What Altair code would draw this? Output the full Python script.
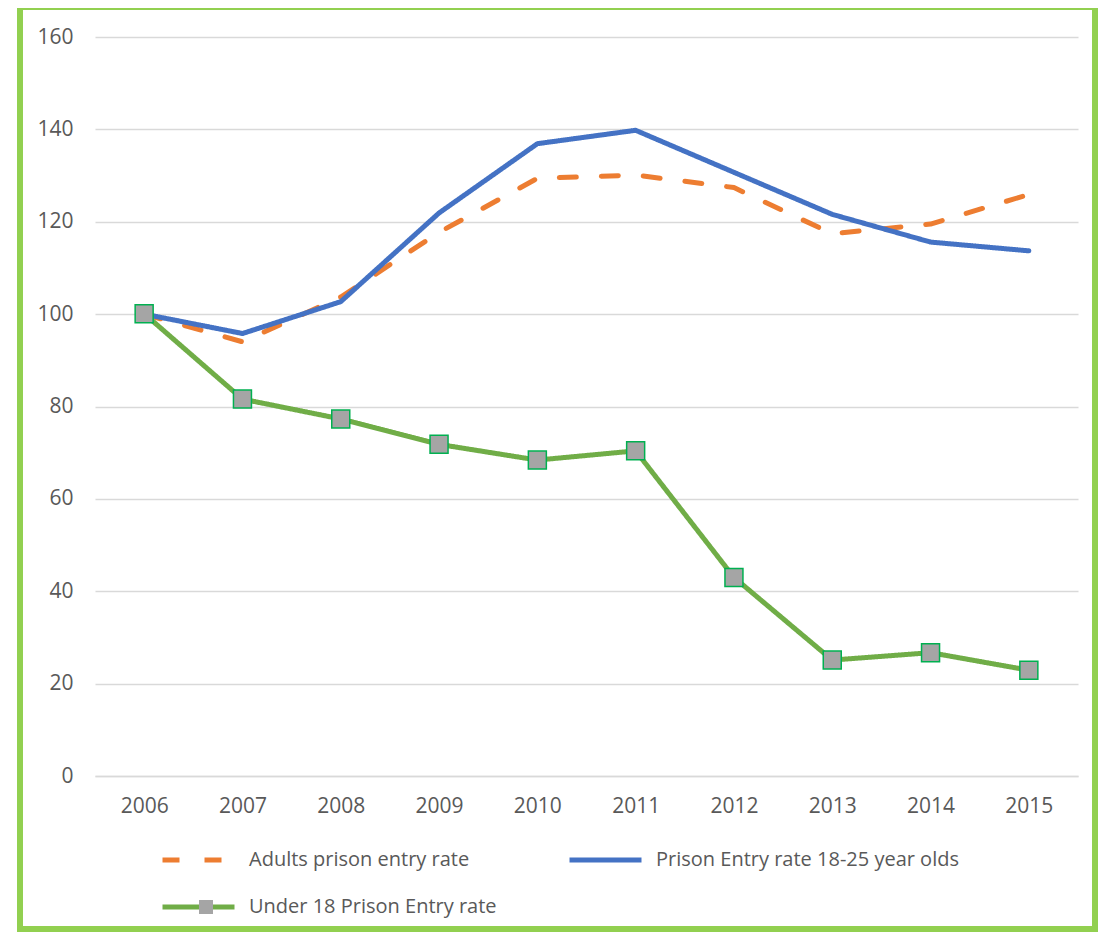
import altair as alt
import pandas as pd

years = ["2006", "2007", "2008", "2009", "2010", "2011", "2012", "2013", "2014", "2015"]
adults = [100, 94.0, 103.7, 117.7, 129.4, 130.1, 127.4, 117.4, 119.5, 125.9]
young = [100, 95.8, 102.7, 121.9, 136.9, 139.8, 130.7, 121.6, 115.6, 113.7]
under18 = [100.1, 81.6, 77.3, 71.8, 68.4, 70.4, 43.0, 25.1, 26.7, 22.9]

series_names = [
    "Adults prison entry rate",
    "Prison Entry rate 18-25 year olds",
    "Under 18 Prison Entry rate",
]
series_colors = ["#ED7D31", "#4472C4", "#70AD47"]
series_dashes = [[17, 25], [1, 0], [1, 0]]

rows = []
for name, vals in zip(series_names, [adults, young, under18]):
    for y, v in zip(years, vals):
        rows.append({"year": y, "value": v, "series": name})
df = pd.DataFrame(rows)
pts = pd.DataFrame({"year": years, "value": under18, "marker": [series_names[2]] * len(years)})

FONT = "Open Sans"
TXT = "#595959"

x_enc = alt.X("year:O", title=None, sort=years,
              axis=alt.Axis(labelAngle=0, labelFontSize=21, labelColor=TXT, labelFont=FONT,
                            ticks=False, domain=True, domainColor="#D9D9D9", domainWidth=1.5,
                            labelPadding=19, grid=False))
y_enc = alt.Y("value:Q", title=None,
              scale=alt.Scale(domain=[0, 160], nice=False),
              axis=alt.Axis(values=[0, 20, 40, 60, 80, 100, 120, 140, 160], labelFontSize=21,
                            labelColor=TXT, labelFont=FONT, ticks=False, domain=False,
                            gridColor="#D9D9D9", gridWidth=1.5, labelPadding=22))

def main_legend():
    return alt.Legend(title=None, orient="none", legendX=65, legendY=813, direction="horizontal",
                      columns=2, columnPadding=70, rowPadding=27,
                      symbolType="stroke", symbolSize=5184, symbolStrokeWidth=5,
                      clipHeight=20, labelFontSize=20, labelFont=FONT, labelLimit=500,
                      labelColor=TXT, labelOffset=12, padding=0)

lines = alt.Chart(df).mark_line(strokeWidth=5, strokeCap="round", strokeJoin="round").encode(
    x=x_enc,
    y=y_enc,
    color=alt.Color("series:N", sort=series_names,
                    scale=alt.Scale(domain=series_names, range=series_colors),
                    legend=main_legend()),
    strokeDash=alt.StrokeDash("series:N", sort=series_names,
                              scale=alt.Scale(domain=series_names, range=series_dashes),
                              legend=main_legend()),
)

points = alt.Chart(pts).mark_point(shape="square", filled=True, size=324, fill="#A5A5A5",
                                   stroke="#00B050", strokeWidth=1.5, opacity=1).encode(
    x=alt.X("year:O", sort=years),
    y=alt.Y("value:Q"),
    shape=alt.Shape("marker:N", scale=alt.Scale(domain=[series_names[2]], range=["square"]),
                    legend=alt.Legend(title=None, orient="none", legendX=103, legendY=860,
                                      symbolSize=196, symbolFillColor="#A5A5A5",
                                      symbolStrokeColor="#00B050", symbolStrokeWidth=1.5,
                                      clipHeight=20, labelExpr="''", labelFontSize=1,
                                      labelOffset=0, padding=0)),
)

frame = alt.Chart(alt.Data(values=[{"k": 1}])).mark_rect(
    fill="transparent", stroke="#92D050", strokeWidth=6
).encode(x=alt.value(-75), x2=alt.value(1000), y=alt.value(-30), y2=alt.value(892))

chart = alt.layer(frame, lines, points).properties(
    width=983, height=739,
    autosize=alt.AutoSizeParams(type="none"),
    padding={"left": 87, "top": 29, "right": 20, "bottom": 156},
    background="white",
).configure_view(stroke=None)

chart.save("out.html", embed_options={"renderer": "svg", "actions": False})
